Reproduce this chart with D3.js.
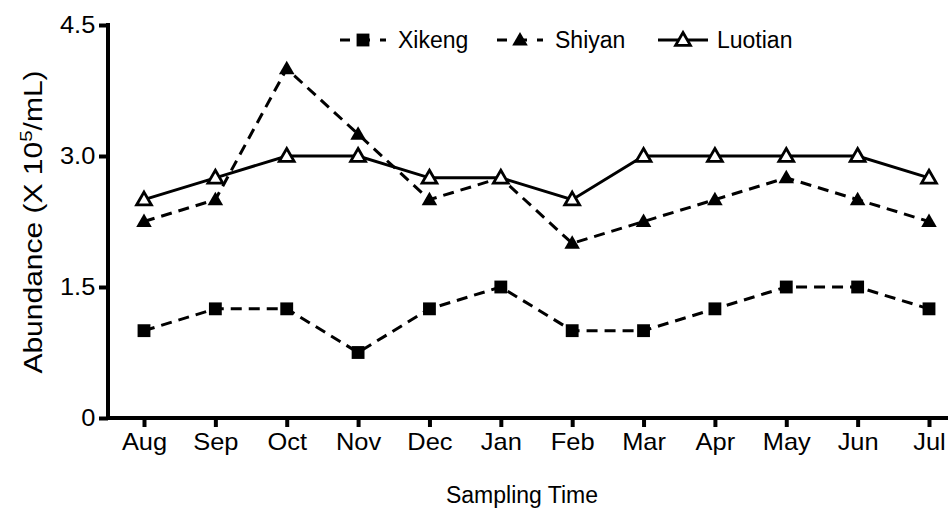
<!DOCTYPE html>
<html>
<head>
<meta charset="utf-8">
<script src="https://cdn.jsdelivr.net/npm/d3@7"></script>
<style>
  body { margin: 0; background: #fff; }
  svg text { font-family: "Liberation Sans", Arial, sans-serif; fill: #000; }
</style>
</head>
<body>
<svg id="chart" width="948" height="511"></svg>
<script>
var months = ["Aug", "Sep", "Oct", "Nov", "Dec", "Jan", "Feb", "Mar", "Apr", "May", "Jun", "Jul"];
var xikeng = [1.0, 1.25, 1.25, 0.75, 1.25, 1.5, 1.0, 1.0, 1.25, 1.5, 1.5, 1.25];
var shiyan = [2.25, 2.5, 4.0, 3.25, 2.5, 2.75, 2.0, 2.25, 2.5, 2.75, 2.5, 2.25];
var luotian = [2.5, 2.75, 3.0, 3.0, 2.75, 2.75, 2.5, 3.0, 3.0, 3.0, 3.0, 2.75];
var yTicks = [0, 1.5, 3.0, 4.5];
var yTickLabels = ["0", "1.5", "3.0", "4.5"];

var series = [
  { name: "Xikeng", values: xikeng, dash: "11,7", marker: "square" },
  { name: "Shiyan", values: shiyan, dash: "11,7", marker: "triangle" },
  { name: "Luotian", values: luotian, dash: null, marker: "opentri" }
];

var svg = d3.select("#chart");
var plotLeft = 108, plotTop = 25, plotBottom = 418, plotRight = 948;

var x = d3.scalePoint().domain(months).range([144, 929]);
var y = d3.scaleLinear().domain([0, 4.5]).range([plotBottom, plotTop]);

// axes
var yAxis = svg.append("g").attr("transform", "translate(" + plotLeft + ",0)")
  .call(d3.axisLeft(y).tickValues(yTicks).tickFormat((d, i) => yTickLabels[i]).tickSize(9).tickPadding(3));
yAxis.select(".domain").attr("stroke-width", 4).attr("d", "M0," + (plotBottom + 2) + "V" + (plotTop - 2));
yAxis.selectAll(".tick line").attr("stroke-width", 4);
yAxis.selectAll(".tick text").style("font-size", "24px").attr("transform", "scale(1.06,1)");

var xAxis = svg.append("g").attr("transform", "translate(0," + plotBottom + ")")
  .call(d3.axisBottom(x).tickSize(9).tickPadding(6));
xAxis.select(".domain").attr("stroke-width", 4).attr("d", "M" + (plotLeft - 2) + ",0H" + plotRight);
xAxis.selectAll(".tick line").attr("stroke-width", 4);
xAxis.selectAll(".tick text").style("font-size", "24px").attr("transform", "scale(1.06,1)");

// axis titles
svg.append("text")
  .attr("x", 522).attr("y", 503)
  .attr("text-anchor", "middle")
  .style("font-size", "23px")
  .text("Sampling Time");

var yt = svg.append("text")
  .attr("transform", "translate(42,222) rotate(-90) scale(1.2,1)")
  .attr("text-anchor", "middle")
  .style("font-size", "25px");
yt.append("tspan").text("Abundance (X 10");
yt.append("tspan").attr("dy", -10).style("font-size", "17px").text("5");
yt.append("tspan").attr("dy", 10).text("/mL)");

var symSquare = d3.symbol().type(d3.symbolSquare).size(165);
var symTri = d3.symbol().type(d3.symbolTriangle).size(105);
var symOpen = d3.symbol().type(d3.symbolTriangle).size(95);

function drawMarker(g, type) {
  if (type === "square") {
    g.append("path").attr("d", symSquare()).attr("fill", "#000");
  } else if (type === "triangle") {
    g.append("path").attr("d", symTri()).attr("fill", "#000").attr("transform", "translate(0,1)");
  } else {
    g.append("path").attr("d", symOpen()).attr("fill", "#fff").attr("stroke", "#000").attr("stroke-width", 2.8).attr("transform", "translate(0,1)");
  }
}

var line = d3.line().x((d, i) => x(months[i])).y(d => y(d));

series.forEach(s => {
  var p = svg.append("path")
    .datum(s.values)
    .attr("d", line)
    .attr("fill", "none")
    .attr("stroke", "#000")
    .attr("stroke-width", 3);
  if (s.dash) p.attr("stroke-dasharray", s.dash);
});

series.forEach(s => {
  s.values.forEach((v, i) => {
    var g = svg.append("g").attr("transform", "translate(" + x(months[i]) + "," + y(v) + ")");
    drawMarker(g, s.marker);
  });
});

// legend
var legendPos = [{ x: 340, tx: 398 }, { x: 497, tx: 555 }, { x: 658, tx: 717 }];
series.forEach((s, i) => {
  var lp = legendPos[i];
  var ly = 40;
  var w = s.dash ? 46 : 50;
  var l = svg.append("line")
    .attr("x1", lp.x).attr("x2", lp.x + w)
    .attr("y1", ly).attr("y2", ly)
    .attr("stroke", "#000").attr("stroke-width", 3);
  if (s.dash) l.attr("stroke-dasharray", "10,10");
  var g = svg.append("g").attr("transform", "translate(" + (lp.x + w / 2) + "," + ly + ")");
  drawMarker(g, s.marker);
  svg.append("text").attr("x", lp.tx).attr("y", ly + 8).style("font-size", "23px").text(s.name);
});
</script>
</body>
</html>
